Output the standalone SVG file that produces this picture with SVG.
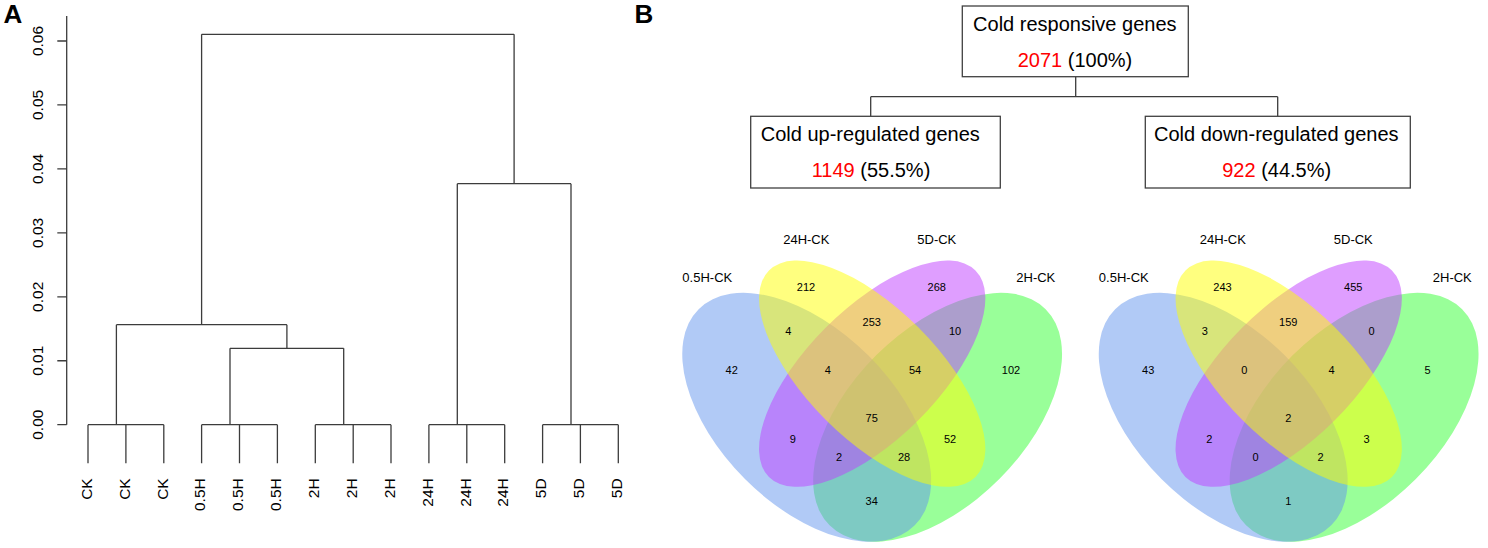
<svg xmlns="http://www.w3.org/2000/svg" width="1488" height="548" viewBox="0 0 1488 548">
<style>
text{font-family:"Liberation Sans",Arial,sans-serif;fill:#000}
.panel{font-size:26px;font-weight:bold}
.tick{font-size:15.5px;text-anchor:middle}
.leaf{font-size:15.5px;text-anchor:end}
.dl{fill:none;stroke:#3c3c3c;stroke-width:1.3}
.box{fill:#fff;stroke:#404040;stroke-width:1.3}
.bt{font-size:20px;text-anchor:middle}
.red{fill:#ff0000}
.vl{font-size:13px;text-anchor:middle}
.vn{font-size:11px;text-anchor:middle}
.g{fill:#00ff00;fill-opacity:0.4}
.b{fill:#6495ed;fill-opacity:0.5}
.p{fill:#bf3eff;fill-opacity:0.5}
.y{fill:#ffff00;fill-opacity:0.5}
</style>
<rect width="1488" height="548" fill="#fff"/>

<g id="panelA">
<text class="panel" x="3.5" y="22.7">A</text>
<g id="axis">
<path class="dl" d="M66.7 16V424.7M57.3 424.7H66.7M57.3 360.75H66.7M57.3 296.8H66.7M57.3 232.85H66.7M57.3 168.9H66.7M57.3 104.95H66.7M57.3 41H66.7"/>
<text class="tick" transform="translate(43.3,424.7) rotate(-90)">0.00</text>
<text class="tick" transform="translate(43.3,360.75) rotate(-90)">0.01</text>
<text class="tick" transform="translate(43.3,296.8) rotate(-90)">0.02</text>
<text class="tick" transform="translate(43.3,232.85) rotate(-90)">0.03</text>
<text class="tick" transform="translate(43.3,168.9) rotate(-90)">0.04</text>
<text class="tick" transform="translate(43.3,104.95) rotate(-90)">0.05</text>
<text class="tick" transform="translate(43.3,41) rotate(-90)">0.06</text>
</g>
<g id="dendrogram">
<path class="dl" d="M88 463.3V424.7M125.9 463.3V424.7M163.8 463.3V424.7M201.6 463.3V424.7M239.5 463.3V424.7M277.4 463.3V424.7M315.3 463.3V424.7M353.2 463.3V424.7M391 463.3V424.7M428.9 463.3V424.7M466.8 463.3V424.7M504.7 463.3V424.7M542.6 463.3V424.7M580.4 463.3V424.7M618.3 463.3V424.7
M88 424.7H163.8M201.6 424.7H277.4M315.3 424.7H391M428.9 424.7H504.7M542.6 424.7H618.3
M116.4 424.7V324.7M230 424.7V348.3M343.7 424.7V348.3M457.3 424.7V183.7M571 424.7V183.7
M230 348.3H343.7M286.9 348.3V324.7M116.4 324.7H286.9M201.6 324.7V34.3
M457.3 183.7H571M514.1 183.7V34.3M201.6 34.3H514.1"/>
</g>
<g id="leaf-labels">
<text class="leaf" transform="translate(91.7,478.3) rotate(-90)">CK</text>
<text class="leaf" transform="translate(129.6,478.3) rotate(-90)">CK</text>
<text class="leaf" transform="translate(167.5,478.3) rotate(-90)">CK</text>
<text class="leaf" transform="translate(205.3,478.3) rotate(-90)">0.5H</text>
<text class="leaf" transform="translate(243.2,478.3) rotate(-90)">0.5H</text>
<text class="leaf" transform="translate(281.1,478.3) rotate(-90)">0.5H</text>
<text class="leaf" transform="translate(319,478.3) rotate(-90)">2H</text>
<text class="leaf" transform="translate(356.9,478.3) rotate(-90)">2H</text>
<text class="leaf" transform="translate(394.7,478.3) rotate(-90)">2H</text>
<text class="leaf" transform="translate(432.6,478.3) rotate(-90)">24H</text>
<text class="leaf" transform="translate(470.5,478.3) rotate(-90)">24H</text>
<text class="leaf" transform="translate(508.4,478.3) rotate(-90)">24H</text>
<text class="leaf" transform="translate(546.3,478.3) rotate(-90)">5D</text>
<text class="leaf" transform="translate(584.1,478.3) rotate(-90)">5D</text>
<text class="leaf" transform="translate(622,478.3) rotate(-90)">5D</text>
</g>
</g>

<g id="panelB">
<text class="panel" x="634.5" y="23.3">B</text>
<g id="connectors">
<path class="dl" d="M1075.7 76.7V96.7M870.7 96.7H1277.7M870.7 96.7V116.3M1277.7 96.7V116.3"/>
</g>
<g id="node-cold-responsive">
<rect class="box" x="962.3" y="6" width="226" height="70.7"/>
<text class="bt" x="1074.8" y="31">Cold responsive genes</text>
<text class="bt" x="1075" y="66.7"><tspan class="red">2071</tspan> (100%)</text>
</g>
<g id="node-cold-up">
<rect class="box" x="750.7" y="116.3" width="249.6" height="71.7"/>
<text class="bt" x="870.3" y="140.7">Cold up-regulated genes</text>
<text class="bt" x="871" y="176.7"><tspan class="red">1149</tspan> (55.5%)</text>
</g>
<g id="node-cold-down">
<rect class="box" x="1145.3" y="116.3" width="265" height="71.7"/>
<text class="bt" x="1276.3" y="140.7">Cold down-regulated genes</text>
<text class="bt" x="1276.7" y="176.7"><tspan class="red">922</tspan> (44.5%)</text>
</g>

<g id="venn-up">
<ellipse class="g" cx="937.6" cy="417.3" rx="152.8" ry="87.3" transform="rotate(-45 937.6 417.3)"/>
<ellipse class="b" cx="806.7" cy="417.3" rx="152.8" ry="87.3" transform="rotate(45 806.7 417.3)"/>
<ellipse class="p" cx="872.2" cy="373.7" rx="146" ry="65.5" transform="rotate(-45 872.2 373.7)"/>
<ellipse class="y" cx="872.2" cy="373.7" rx="146" ry="65.5" transform="rotate(45 872.2 373.7)"/>
<text class="vl" x="707.3" y="282">0.5H-CK</text>
<text class="vl" x="806.3" y="244">24H-CK</text>
<text class="vl" x="936.8" y="244">5D-CK</text>
<text class="vl" x="1035.8" y="282">2H-CK</text>
<text class="vn" x="806" y="291.3">212</text>
<text class="vn" x="936.7" y="291.3">268</text>
<text class="vn" x="788.3" y="334.7">4</text>
<text class="vn" x="871.7" y="325.7">253</text>
<text class="vn" x="955" y="334.7">10</text>
<text class="vn" x="731.7" y="374">42</text>
<text class="vn" x="827.7" y="374">4</text>
<text class="vn" x="915" y="374">54</text>
<text class="vn" x="1011" y="374">102</text>
<text class="vn" x="871.7" y="421.7">75</text>
<text class="vn" x="792.7" y="443.3">9</text>
<text class="vn" x="950" y="443.3">52</text>
<text class="vn" x="839" y="461">2</text>
<text class="vn" x="904" y="461">28</text>
<text class="vn" x="871.7" y="504.7">34</text>
</g>

<g id="venn-down" transform="translate(416.5,0)">
<ellipse class="g" cx="937.6" cy="417.3" rx="152.8" ry="87.3" transform="rotate(-45 937.6 417.3)"/>
<ellipse class="b" cx="806.7" cy="417.3" rx="152.8" ry="87.3" transform="rotate(45 806.7 417.3)"/>
<ellipse class="p" cx="872.2" cy="373.7" rx="146" ry="65.5" transform="rotate(-45 872.2 373.7)"/>
<ellipse class="y" cx="872.2" cy="373.7" rx="146" ry="65.5" transform="rotate(45 872.2 373.7)"/>
<text class="vl" x="707.3" y="282">0.5H-CK</text>
<text class="vl" x="806.3" y="244">24H-CK</text>
<text class="vl" x="936.8" y="244">5D-CK</text>
<text class="vl" x="1035.8" y="282">2H-CK</text>
<text class="vn" x="806" y="291.3">243</text>
<text class="vn" x="936.7" y="291.3">455</text>
<text class="vn" x="788.3" y="334.7">3</text>
<text class="vn" x="871.7" y="325.7">159</text>
<text class="vn" x="955" y="334.7">0</text>
<text class="vn" x="731.7" y="374">43</text>
<text class="vn" x="827.7" y="374">0</text>
<text class="vn" x="915" y="374">4</text>
<text class="vn" x="1011" y="374">5</text>
<text class="vn" x="871.7" y="421.7">2</text>
<text class="vn" x="792.7" y="443.3">2</text>
<text class="vn" x="950" y="443.3">3</text>
<text class="vn" x="839" y="461">0</text>
<text class="vn" x="904" y="461">2</text>
<text class="vn" x="871.7" y="504.7">1</text>
</g>
</g>
</svg>
